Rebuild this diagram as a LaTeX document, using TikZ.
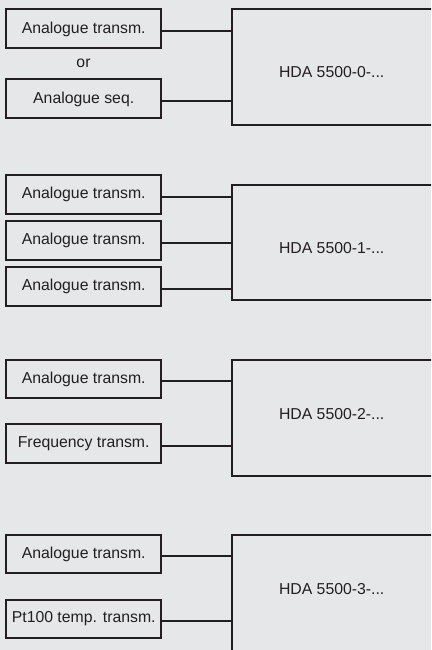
\documentclass[tikz,border=0pt]{standalone}
\usepackage{fontspec}
\setmainfont{Liberation Sans}
\definecolor{bg}{HTML}{E6E7E8}
\definecolor{ink}{HTML}{231F20}
\begin{document}
\begin{tikzpicture}[x=1pt,y=-1pt,
  every node/.style={font=\fontsize{15.8}{18}\selectfont, text=ink},
  inbox/.style={draw=ink, line width=2pt, minimum width=155pt, minimum height=38.5pt, inner sep=0pt, outer sep=0pt},
  bigbox/.style={draw=ink, line width=2pt, anchor=north west, minimum width=210pt, inner sep=0pt, outer sep=0pt},
  wire/.style={draw=ink, line width=2pt}]
\fill[bg] (0,0) rectangle (431,650);
\useasboundingbox (0,0) rectangle (431,650);
\clip (0,0) rectangle (431,650);

% Group 0
\node[bigbox, minimum height=116pt] (H0) at (231.5,9.5) {};
\node (T0) at (331.7,72) {HDA 5500-0-...};
\node[inbox, minimum height=39pt] (a0) at (83.7,29) {Analogue transm.};
\node (or) at (83.5,63) {or};
\node[inbox, minimum height=39pt] (b0) at (83.7,99) {Analogue seq.};
\draw[wire] ([yshift=-2pt]a0.east) -- ([yshift=-2pt]a0.east -| H0.west);
\draw[wire] ([yshift=-2pt]b0.east) -- ([yshift=-2pt]b0.east -| H0.west);

% Group 1
\node[bigbox, minimum height=115pt] (H1) at (231.5,184.5) {};
\node (T1) at (331.7,248.5) {HDA 5500-1-...};
\node[inbox] (a1) at (83.7,194.7) {Analogue transm.};
\node[inbox] (b1) at (83.7,240.7) {Analogue transm.};
\node[inbox] (c1) at (83.7,286.7) {Analogue transm.};
\draw[wire] ([yshift=-2pt]a1.east) -- ([yshift=-2pt]a1.east -| H1.west);
\draw[wire] ([yshift=-2pt]b1.east) -- ([yshift=-2pt]b1.east -| H1.west);
\draw[wire] ([yshift=-2pt]c1.east) -- ([yshift=-2pt]c1.east -| H1.west);

% Group 2
\node[bigbox, minimum height=116pt] (H2) at (231.5,359.5) {};
\node (T2) at (331.7,414.5) {HDA 5500-2-...};
\node[inbox] (a2) at (83.7,379) {Analogue transm.};
\node[inbox] (b2) at (83.7,443.5) {Frequency transm.};
\draw[wire] ([yshift=-2pt]a2.east) -- ([yshift=-2pt]a2.east -| H2.west);
\draw[wire] ([yshift=-2pt]b2.east) -- ([yshift=-2pt]b2.east -| H2.west);

% Group 3
\node[bigbox, minimum height=160pt] (H3) at (231.5,534.5) {};
\node (T3) at (331.7,589.5) {HDA 5500-3-...};
\node[inbox] (a3) at (83.7,554) {Analogue transm.};
\node[inbox] (b3) at (83.7,619) {Pt100 temp. transm.};
\draw[wire] ([yshift=-2pt]a3.east) -- ([yshift=-2pt]a3.east -| H3.west);
\draw[wire] ([yshift=-2pt]b3.east) -- ([yshift=-2pt]b3.east -| H3.west);
\end{tikzpicture}
\end{document}
